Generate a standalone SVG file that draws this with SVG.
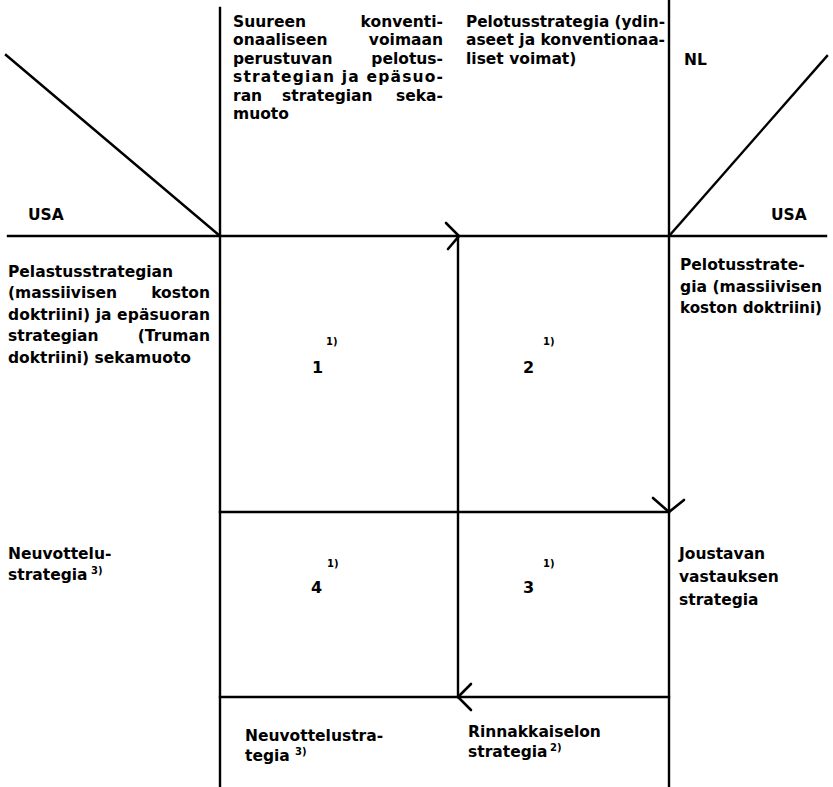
<svg xmlns="http://www.w3.org/2000/svg" width="833" height="787" viewBox="0 0 833 787">
<style>
.t{font-family:"DejaVu Sans","Liberation Sans",sans-serif;font-weight:bold;font-size:15.5px;fill:#000}
.n{font-family:"DejaVu Sans","Liberation Sans",sans-serif;font-weight:bold;font-size:16px;fill:#000}
.s{font-family:"DejaVu Sans","Liberation Sans",sans-serif;font-weight:bold;font-size:10px;fill:#000}
.e{text-anchor:end}
.ln{stroke:#000;stroke-width:2.4;fill:none;stroke-linecap:square}
.ch{stroke:#000;stroke-width:2.6;fill:none;stroke-linecap:round;stroke-linejoin:miter}
</style>
<rect width="833" height="787" fill="#fff"/>
<g id="connectors">
<line class="ln" x1="220" y1="8" x2="220" y2="787"/>
<line class="ln" x1="669" y1="1" x2="669" y2="787"/>
<line class="ln" x1="458" y1="236" x2="458" y2="697"/>
<line class="ln" x1="8" y1="236" x2="826" y2="236"/>
<line class="ln" x1="220" y1="512" x2="669" y2="512"/>
<line class="ln" x1="220" y1="697" x2="669" y2="697"/>
<line class="ln" x1="6" y1="55" x2="220" y2="236"/>
<line class="ln" x1="669" y1="236" x2="827" y2="56"/>
<path class="ch" d="M446,223 L459,236 L448,249"/>
<path class="ch" d="M653,498 L669,512 L684,500"/>
<path class="ch" d="M471,684 L458,697 L471,710"/>
</g>
<g id="corner-left"><text class="t" x="28" y="220">USA</text></g>
<g id="corner-right"><text class="t" x="771" y="220">USA</text><text class="t" x="684" y="65">NL</text></g>
<g id="col-1-header">
<text class="t" x="233" y="27">Suureen</text><text class="t e" x="443" y="27">konventi-</text>
<text class="t" x="233" y="45">onaaliseen</text><text class="t e" x="443" y="45">voimaan</text>
<text class="t" x="233" y="64">perustuvan</text><text class="t e" x="443" y="64">pelotus-</text>
<text class="t" x="233" y="82" textLength="210" lengthAdjust="spacing">strategian ja epäsuo-</text>
<text class="t" x="233" y="101">ran</text><text class="t" x="282" y="101">strategian</text><text class="t e" x="443" y="101">seka-</text>
<text class="t" x="233" y="119">muoto</text>
</g>
<g id="col-2-header">
<text class="t" x="466" y="27" textLength="199" lengthAdjust="spacingAndGlyphs">Pelotusstrategia (ydin-</text>
<text class="t" x="466" y="45" textLength="199" lengthAdjust="spacingAndGlyphs">aseet ja konventionaa-</text>
<text class="t" x="466" y="64">liset  voimat)</text>
</g>
<g id="row-1-header">
<text class="t" x="8" y="277">Pelastusstrategian</text>
<text class="t" x="8" y="298">(massiivisen</text><text class="t e" x="210" y="298">koston</text>
<text class="t" x="8" y="320" textLength="202" lengthAdjust="spacing">doktriini) ja epäsuoran</text>
<text class="t" x="8" y="341">strategian</text><text class="t e" x="210" y="341">(Truman</text>
<text class="t" x="8" y="363">doktriini) sekamuoto</text>
</g>
<g id="row-1-right">
<text class="t" x="680" y="270">Pelotusstrate-</text>
<text class="t" x="680" y="292" textLength="142" lengthAdjust="spacingAndGlyphs">gia (massiivisen</text>
<text class="t" x="680" y="313" textLength="142" lengthAdjust="spacingAndGlyphs">koston doktriini)</text>
</g>
<g id="row-2-header">
<text class="t" x="8" y="559">Neuvottelu-</text>
<text class="t" x="8" y="580">strategia</text><text class="s" x="91" y="574">3)</text>
</g>
<g id="row-2-right">
<text class="t" x="679" y="559">Joustavan</text>
<text class="t" x="679" y="582">vastauksen</text>
<text class="t" x="679" y="605">strategia</text>
</g>
<g id="col-1-footer">
<text class="t" x="245" y="741">Neuvottelustra-</text>
<text class="t" x="245" y="761">tegia</text><text class="s" x="295" y="755">3)</text>
</g>
<g id="col-2-footer">
<text class="t" x="468" y="737">Rinnakkaiselon</text>
<text class="t" x="468" y="757">strategia</text><text class="s" x="550" y="751">2)</text>
</g>
<g id="cell-1"><text class="n" x="312" y="373">1</text><text class="s" x="326" y="345">1)</text></g>
<g id="cell-2"><text class="n" x="523" y="373">2</text><text class="s" x="543" y="345">1)</text></g>
<g id="cell-3"><text class="n" x="523" y="593">3</text><text class="s" x="543" y="567">1)</text></g>
<g id="cell-4"><text class="n" x="311" y="593">4</text><text class="s" x="327" y="567">1)</text></g>
</svg>
